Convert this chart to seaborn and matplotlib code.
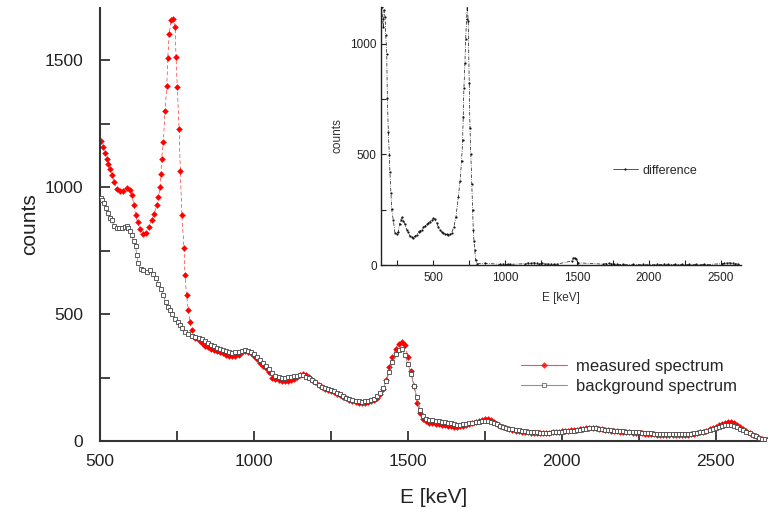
import numpy as np
import pandas as pd
import seaborn as sns
import matplotlib
matplotlib.use("Agg")
import matplotlib.pyplot as plt
from matplotlib.ticker import MultipleLocator

# ---------------- data ----------------
meas_e_low = [503, 511, 516, 522, 527, 532, 540, 546, 554, 565, 576, 587, 597, 603, 611, 616,
              622, 630, 641, 651, 659, 668, 676, 684, 690, 695, 698, 700, 706, 711, 717, 720,
              725, 731, 738, 744, 747, 751, 757, 761, 766, 773, 776, 781, 787, 792, 798]
meas_c_low = [1181, 1157, 1135, 1112, 1092, 1072, 1046, 1020, 994, 984, 985, 996, 987, 967, 928, 889,
              862, 836, 816, 820, 843, 869, 895, 928, 961, 1000, 1050, 1112, 1177, 1298, 1396, 1508,
              1603, 1658, 1663, 1629, 1511, 1393, 1227, 1063, 889, 758, 653, 574, 515, 469, 436]

bg_e_low = [503, 507, 512, 518, 525, 532, 538, 546, 554, 562, 570, 580, 587, 592, 597, 603,
            609, 616, 619, 624, 632, 641, 652, 662, 673, 681, 690, 697, 706, 713, 720, 727,
            735, 744, 752, 760, 767, 776, 787, 798]
bg_c_low = [958, 948, 937, 919, 898, 880, 872, 845, 840, 838, 840, 843, 845, 838, 827, 810,
            788, 767, 731, 699, 679, 672, 666, 672, 659, 640, 620, 600, 574, 548, 528, 515,
            502, 482, 469, 456, 443, 430, 421, 413]

# energies 810 ... 2670 keV in 10 keV channels
e_high = list(range(810, 2680, 10))

meas_c_high = [404, 396, 384, 375, 370, 364, 360, 354, 349, 345, 340, 335, 333, 335, 340, 350,
               356, 352, 345, 335, 322, 308, 296, 287, 270, 250, 243, 240, 238, 237, 238, 240,
               245, 252, 261, 263, 258, 252, 242, 232, 222, 212, 204, 200, 196, 192, 186, 180,
               174, 168, 162, 157, 153, 151, 150, 151, 153, 156, 162, 170, 185, 203, 240, 290,
               330, 362, 382, 390, 378, 330, 275, 215, 150, 110, 88, 78, 72, 69, 67, 65,
               63, 62, 60, 58, 57, 57, 58, 60, 63, 67, 71, 75, 80, 84, 86, 86,
               82, 76, 68, 60, 54, 50, 46, 43, 41, 39, 37, 35, 34, 33, 32, 31,
               31, 31, 32, 33, 34, 35, 37, 38, 40, 41, 42, 44, 45, 47, 48, 50,
               51, 52, 51, 49, 47, 45, 43, 41, 40, 38, 37, 36, 35, 34, 33, 32,
               31, 30, 29, 28, 27, 26, 25, 24, 23, 23, 22, 22, 22, 23, 23, 24,
               25, 27, 29, 31, 34, 37, 41, 46, 51, 56, 62, 67, 71, 73, 73, 70,
               64, 56, 48, 40, 32, 25, 18, 12, 7, 4, 2]

bg_c_high = [408, 405, 401, 392, 385, 379, 373, 366, 361, 357, 353, 350, 348, 349, 351, 355,
             358, 355, 349, 342, 332, 319, 306, 294, 282, 268, 256, 251, 250, 250, 251, 252,
             254, 257, 259, 258, 253, 247, 240, 232, 222, 214, 207, 204, 199, 195, 190, 184,
             178, 171, 166, 161, 158, 156, 155, 156, 157, 160, 165, 177, 190, 207, 236, 272,
             310, 342, 360, 362, 340, 305, 265, 218, 172, 124, 97, 88, 84, 82, 80, 77,
             76, 74, 71, 69, 66, 64, 64, 65, 67, 69, 71, 73, 76, 78, 80, 79,
             76, 72, 66, 60, 56, 52, 49, 46, 44, 42, 40, 38, 36, 35, 34, 34,
             33, 33, 33, 33, 34, 35, 36, 37, 38, 39, 40, 41, 42, 44, 46, 48,
             50, 51, 50, 48, 46, 45, 43, 42, 41, 40, 39, 38, 37, 37, 36, 35,
             34, 33, 32, 31, 30, 29, 28, 27, 27, 26, 26, 26, 26, 26, 26, 27,
             28, 29, 30, 33, 35, 37, 40, 43, 46, 50, 55, 59, 62, 63, 62, 59,
             54, 48, 42, 36, 31, 24, 18, 13, 9, 6, 4]

meas_e = meas_e_low + e_high
meas_c = meas_c_low + meas_c_high
bg_e = bg_e_low + e_high
bg_c = bg_c_low + bg_c_high

diff_e = [144, 150, 155, 160, 167, 172, 179, 183, 190, 197, 201, 208, 213, 224, 236, 248,
          259, 268, 276, 285, 294, 305, 317, 328, 340, 352, 363, 375, 387, 400, 411, 422,
          433, 444, 456, 468, 479, 491, 502, 514, 525, 537, 548, 560, 572, 583, 595, 606,
          618, 630, 646, 660, 676, 688, 699, 706, 710, 715, 722, 727, 734, 738,
          745, 752, 757, 763, 769, 776, 780, 785, 790, 797, 803,
          861, 965, 985, 1005, 1020, 1035, 1140, 1160, 1180, 1200, 1220, 1240, 1260, 1280,
          1300, 1320, 1340, 1360, 1465, 1475, 1485, 1495, 1505, 1680, 1700, 1720, 1740, 1760,
          1780, 1800, 1820, 1890, 1925, 1960, 2055, 2080, 2105, 2130, 2155, 2180, 2205, 2230,
          2255, 2280, 2305, 2330, 2355, 2380, 2403, 2507, 2525, 2545, 2565, 2585, 2600, 2618]
diff_c = [1165, 1110, 1073, 1150, 1120, 1040, 951, 753, 601, 495, 419, 327, 251, 205, 145, 140,
          150, 185, 205, 215, 200, 185, 160, 150, 129, 125, 122, 130, 137, 150, 155, 160,
          170, 175, 183, 190, 195, 205, 210, 206, 190, 173, 160, 150, 145, 140, 138, 137,
          140, 145, 173, 218, 306, 380, 471, 563, 670, 799, 913, 1020, 1112, 1170,
          1100, 822, 620, 500, 365, 250, 160, 110, 68, 21, 5,
          8, 3, 5, 2, 4, 3, 6, 9, 7, 10, 8, 5, 7, 6,
          4, 5, 3, 4, 18, 30, 32, 25, 10, 4, 6, 8, 5, 3,
          4, 2, 3, 3, 2, 3, 3, 2, 4, 3, 2, 3, 2, 3,
          2, 3, 2, 3, 2, 3, 2, 6, 8, 10, 9, 8, 6, 4]

# ---------------- figure ----------------
sns.set_style("ticks")
plt.rcParams["font.family"] = ["Liberation Sans", "DejaVu Sans"]

fig = plt.figure(figsize=(7.68, 5.11), dpi=100)
ax = fig.add_axes([100 / 768, 1 - 441 / 511, 668 / 768, 433 / 511])

sns.lineplot(x=meas_e, y=meas_c, ax=ax, color="#ff2020", lw=0.45, ls=(0, (6, 4)),
             marker="D", markersize=3.0, markeredgewidth=0.3, markeredgecolor="red",
             markerfacecolor="red", errorbar=None, label="measured spectrum", zorder=2)
sns.lineplot(x=bg_e, y=bg_c, ax=ax, color="#777777", lw=0.5,
             marker="s", markersize=2.8, markerfacecolor="white", markeredgecolor="#444444",
             markeredgewidth=0.6, errorbar=None, label="background spectrum", zorder=3)

ax.set_xlim(500, 2670)
ax.set_ylim(0, 1705)
ax.xaxis.set_major_locator(MultipleLocator(500))
ax.xaxis.set_minor_locator(MultipleLocator(250))
ax.yaxis.set_major_locator(MultipleLocator(500))
ax.yaxis.set_minor_locator(MultipleLocator(250))
ax.tick_params(which="both", direction="in", length=7, width=1.2, color="#222222",
               labelsize=12.5, labelcolor="#222222")
ax.tick_params(axis="x", which="both", pad=9)
ax.tick_params(axis="y", which="both", pad=12)
for s in ["top", "right"]:
    ax.spines[s].set_visible(False)
for s in ["left", "bottom"]:
    ax.spines[s].set_linewidth(1.5)
    ax.spines[s].set_color("#333333")
ax.set_xlabel("E [keV]", fontsize=15, labelpad=14, color="#222222")
ax.set_ylabel("counts", fontsize=15, labelpad=4, color="#222222")

leg = ax.legend(loc="upper left", bbox_to_anchor=(0.62, 0.205), frameon=False,
                fontsize=12, handlelength=2.8, handletextpad=0.5, labelspacing=0.3,
                borderaxespad=0)
for ln in leg.get_lines():
    ln.set_linestyle("-")
    ln.set_linewidth(0.8)
    ln.set_alpha(0.8)

# ---------------- inset ----------------
ins = fig.add_axes([381 / 768, 1 - 265 / 511, 360 / 768, 258 / 511])
sns.lineplot(x=diff_e, y=diff_c, ax=ins, color="#111111", lw=0.5, ls=(0, (5, 2, 1, 2)),
             marker="o", markersize=1.6, markeredgewidth=0, errorbar=None,
             label="difference", sort=False)
ins.set_xlim(139, 2640)
ins.set_ylim(0, 1165)
ins.xaxis.set_major_locator(MultipleLocator(500))
ins.xaxis.set_minor_locator(MultipleLocator(250))
ins.yaxis.set_major_locator(MultipleLocator(500))
ins.yaxis.set_minor_locator(MultipleLocator(250))
ins.tick_params(which="both", direction="in", length=3.5, width=0.8, color="#222222",
                labelsize=8.5, labelcolor="#222222")
ins.tick_params(axis="x", which="both", pad=5)
ins.tick_params(axis="y", which="both", pad=3)
for s in ["top", "right"]:
    ins.spines[s].set_visible(False)
for s in ["left", "bottom"]:
    ins.spines[s].set_linewidth(1.0)
    ins.spines[s].set_color("#222222")
ins.set_facecolor("none")
ins.set_xlabel("E [keV]", fontsize=8.5, labelpad=6, color="#333333")
ins.set_ylabel("counts", fontsize=8.5, labelpad=5, color="#333333")
ileg = ins.legend(loc="center left", bbox_to_anchor=(0.63, 0.365), frameon=False, fontsize=9,
                  handlelength=2.0, handletextpad=0.4, borderaxespad=0)
for ln in ileg.get_lines():
    ln.set_linestyle("-")

fig.savefig("out.png", dpi=100)
